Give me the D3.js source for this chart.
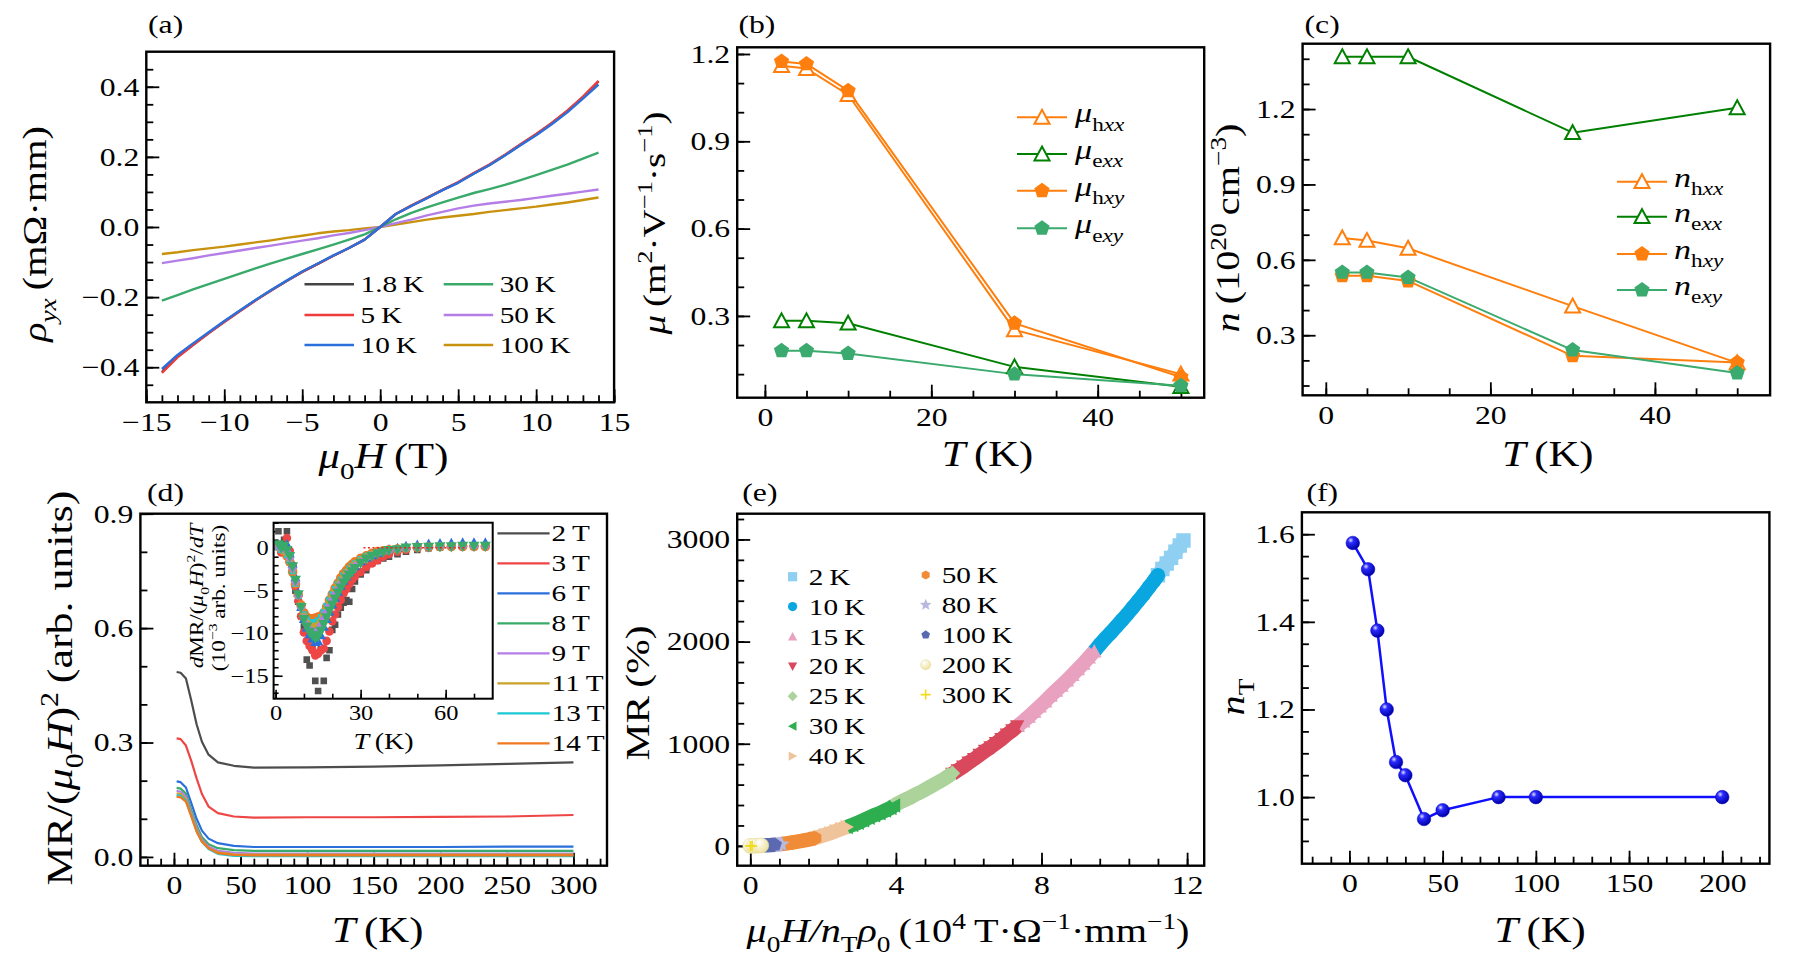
<!DOCTYPE html>
<html><head><meta charset="utf-8">
<script src="https://cdn.jsdelivr.net/npm/d3@7"></script>
<style>body{margin:0;background:#fff;overflow:hidden}</style>
</head><body>
<script>
// ================= DATA =================
// (a) Hall resistivity rho_yx vs field
const aH = [-14,-13,-12,-11,-10,-9,-8,-7,-6,-5,-4,-3,-2,-1,0,1,2,3,4,5,6,7,8,9,10,11,12,13,14];
const a1p8K = [-0.414,-0.370,-0.336,-0.302,-0.270,-0.239,-0.209,-0.181,-0.154,-0.128,-0.105,-0.082,-0.060,-0.036,0,0.037,0.061,0.083,0.106,0.127,0.153,0.177,0.205,0.235,0.264,0.296,0.331,0.370,0.415];
const a5K   = [-0.416,-0.372,-0.337,-0.303,-0.271,-0.240,-0.210,-0.181,-0.154,-0.128,-0.105,-0.082,-0.060,-0.036,0,0.037,0.061,0.083,0.106,0.128,0.154,0.178,0.206,0.236,0.265,0.297,0.332,0.372,0.417];
const a10K  = [-0.405,-0.365,-0.332,-0.300,-0.268,-0.238,-0.208,-0.180,-0.153,-0.127,-0.104,-0.081,-0.060,-0.036,0,0.037,0.060,0.082,0.105,0.126,0.152,0.176,0.204,0.233,0.262,0.293,0.327,0.366,0.406];
const a30K  = [-0.210,-0.194,-0.178,-0.163,-0.148,-0.133,-0.118,-0.104,-0.090,-0.077,-0.064,-0.050,-0.036,-0.021,0,0.022,0.040,0.056,0.070,0.084,0.097,0.108,0.120,0.134,0.148,0.163,0.178,0.195,0.212];
const a50K  = [-0.103,-0.096,-0.089,-0.081,-0.074,-0.067,-0.060,-0.053,-0.046,-0.039,-0.032,-0.024,-0.017,-0.009,0,0.011,0.021,0.033,0.043,0.053,0.061,0.067,0.072,0.077,0.083,0.089,0.095,0.101,0.107];
const a100K = [-0.077,-0.072,-0.066,-0.061,-0.056,-0.050,-0.044,-0.038,-0.031,-0.025,-0.018,-0.013,-0.009,-0.004,0,0.007,0.014,0.021,0.027,0.032,0.037,0.043,0.048,0.053,0.058,0.064,0.070,0.077,0.084];
const aLabels = ["1.8\u2009K","5\u2009K","10\u2009K","30\u2009K","50\u2009K","100\u2009K"];
const aColors = ["#444444","#ee3b3b","#2a6fdb","#3aaa6a","#b57ee6","#c8920e"];

// (b) mobilities
const bT = [2,5,10,30,50];
const muHxx = [1.160,1.150,1.060,0.252,0.100];
const muExx = [0.283,0.283,0.275,0.125,0.057];
const muHxy = [1.174,1.166,1.074,0.275,0.090];
const muExy = [0.180,0.180,0.171,0.100,0.060];

// (c) carrier densities
const cT = [2,5,10,30,50];
const nHxx = [0.687,0.677,0.646,0.416,0.190];
const nExx = [1.408,1.408,1.408,1.106,1.205];
const nHxy = [0.537,0.537,0.516,0.218,0.192];
const nExy = [0.550,0.550,0.530,0.241,0.150];

// (d) MR/(mu0H)^2 vs T
const dT = [2,5,9,13,17,21,26,33,45,60,100,150,200,250,300];
const d2T  = [0.485,0.483,0.468,0.410,0.348,0.302,0.268,0.248,0.239,0.234,0.235,0.237,0.240,0.244,0.248];
const d3T  = [0.311,0.309,0.292,0.252,0.206,0.165,0.132,0.115,0.106,0.103,0.104,0.104,0.105,0.106,0.110];
const d6T  = [0.198,0.196,0.182,0.141,0.100,0.069,0.048,0.036,0.029,0.026,0.026,0.026,0.026,0.027,0.027];
const d8T  = [0.181,0.179,0.166,0.123,0.083,0.052,0.033,0.023,0.018,0.016,0.016,0.016,0.016,0.016,0.016];
const d9T  = [0.173,0.171,0.158,0.116,0.076,0.046,0.027,0.016,0.011,0.009,0.009,0.009,0.009,0.009,0.009];
const d11T = [0.167,0.165,0.152,0.111,0.071,0.042,0.023,0.012,0.007,0.006,0.006,0.006,0.006,0.006,0.006];
const d13T = [0.162,0.160,0.148,0.108,0.068,0.040,0.021,0.008,0.003,0.002,0.002,0.002,0.002,0.002,0.002];
const d14T = [0.158,0.156,0.145,0.106,0.066,0.040,0.023,0.010,0.005,0.004,0.004,0.004,0.004,0.004,0.004];
const dLabels = ["2\u2009T","3\u2009T","6\u2009T","8\u2009T","9\u2009T","11\u2009T","13\u2009T","14\u2009T"];
const dColors = ["#4d4d4d","#ee4545","#2a6fdb","#3aaa6a","#b57ee6","#c9a227","#1cc8d4","#f07820"];

// (d) inset: dMR/(mu0H)^2/dT
const inT = [1,2,3,4,5,6,7,8,9,10,11,12,13,14,15,16,17,18,19,20,21,22,23,24,25,26,27,28,30,32,34,36,38,40,43,46,50,54,58,62,66,70,74];
const in2T  = [2.0,0.5,1.0,2.0,-0.5,-2.5,-5.0,-6.3,-8.0,-9.2,-13.1,-13.8,-11.8,-15.6,-16.8,-11.9,-15.6,-12.9,-12.0,-9.6,-9.0,-7.8,-7.0,-6.4,-6.1,-6.3,-4.8,-3.9,-3.1,-2.6,-1.8,-1.5,-1.2,-1.0,-0.7,-0.4,-0.2,0,0.1,0.2,0.2,0.2,0.2];
const in3T  = [0.3,-0.5,0.2,1.2,-0.3,-2.0,-4.5,-6.2,-8.0,-9.9,-10.9,-11.5,-12.0,-12.6,-12.4,-12.0,-11.8,-10.9,-9.8,-8.6,-7.8,-6.9,-6.1,-5.3,-4.8,-4.2,-3.7,-3.3,-2.8,-2.2,-1.8,-1.4,-1.0,-0.7,-0.4,-0.2,0,0.1,0.2,0.2,0.2,0.2,0.2];
const in6T  = [0.3,0.2,0.0,0.5,-0.6,-1.8,-3.4,-5.2,-6.9,-8.3,-9.3,-10.1,-10.6,-11.0,-10.9,-10.2,-9.2,-8.3,-7.4,-6.6,-5.8,-5.1,-4.4,-3.8,-3.3,-2.8,-2.4,-2.1,-1.5,-1.1,-0.8,-0.5,-0.3,-0.1,0.05,0.3,0.45,0.55,0.6,0.65,0.7,0.7,0.7];
const in8T  = [0.4,0.0,0.2,-0.3,-1.0,-2.2,-3.8,-5.5,-7.0,-8.4,-9.3,-9.9,-10.3,-10.6,-10.4,-9.8,-9.0,-8.2,-7.4,-6.7,-6.0,-5.3,-4.7,-4.1,-3.6,-3.2,-2.8,-2.4,-1.8,-1.3,-1.0,-0.7,-0.5,-0.3,-0.2,0.0,0.05,0.1,0.15,0.15,0.2,0.2,0.2];
const in9T  = [0.2,0,0,-0.4,-1.2,-2.4,-4.0,-5.6,-7.0,-8.2,-9.0,-9.5,-9.8,-9.9,-9.6,-9.0,-8.3,-7.5,-6.8,-6.1,-5.4,-4.8,-4.2,-3.7,-3.2,-2.8,-2.4,-2.1,-1.6,-1.2,-0.9,-0.6,-0.4,-0.3,-0.15,0,0.1,0.1,0.15,0.2,0.2,0.2,0.2];
const in11T = [0.2,-0.1,-0.2,-0.6,-1.3,-2.5,-4.1,-5.6,-6.9,-8.0,-8.7,-9.1,-9.2,-9.2,-9.0,-8.5,-7.9,-7.1,-6.4,-5.7,-5.0,-4.4,-3.9,-3.4,-2.9,-2.5,-2.2,-1.9,-1.4,-1.0,-0.7,-0.5,-0.3,-0.2,-0.1,0,0.1,0.15,0.2,0.2,0.25,0.25,0.25];
const in13T = [0.1,-0.2,-0.3,-0.8,-1.5,-2.7,-4.2,-5.6,-6.8,-7.8,-8.4,-8.7,-8.8,-8.7,-8.5,-8.1,-7.5,-6.8,-6.1,-5.4,-4.8,-4.2,-3.7,-3.2,-2.8,-2.4,-2.1,-1.8,-1.3,-0.9,-0.7,-0.5,-0.3,-0.2,-0.1,0,0.1,0.2,0.3,0.3,0.35,0.35,0.35];
const in14T = [0.2,-0.1,-0.4,-0.9,-1.6,-2.8,-4.2,-5.5,-6.7,-7.6,-8.1,-8.3,-8.3,-8.2,-8.1,-8.0,-7.6,-6.9,-6.1,-5.4,-4.7,-4.1,-3.5,-3.0,-2.6,-2.2,-1.9,-1.6,-1.2,-0.9,-0.6,-0.4,-0.3,-0.2,-0.1,0,0.1,0.15,0.2,0.2,0.2,0.2,0.2];
const inFitT = [31,67];
const inFitV = [0.05,0.05];

// (e) MR vs mu0H/(nT rho0), visible segment of each temperature
const e2K   = [[11.2,2650],[11.32,2710],[11.44,2765],[11.56,2820],[11.68,2880],[11.8,2940],[11.9,2990]];
const e10K  = [[9.45,1905],[9.6,1970],[9.75,2030],[9.9,2085],[10.05,2145],[10.2,2205],[10.35,2265],[10.5,2330],[10.65,2395],[10.8,2460],[10.95,2530],[11.1,2600],[11.2,2650]];
const e15K  = [[7.35,1175],[7.5,1220],[7.65,1265],[7.8,1315],[7.95,1365],[8.1,1415],[8.25,1470],[8.4,1520],[8.55,1570],[8.7,1620],[8.85,1675],[9.0,1730],[9.15,1785],[9.3,1845],[9.45,1905]];
const e20K  = [[5.55,705],[5.7,740],[5.85,775],[6.0,815],[6.15,850],[6.3,890],[6.45,930],[6.6,965],[6.75,1005],[6.9,1045],[7.05,1090],[7.2,1130],[7.33,1170]];
const e25K  = [[3.95,395],[4.1,425],[4.25,450],[4.4,475],[4.55,505],[4.7,530],[4.85,560],[5.0,590],[5.15,620],[5.3,650],[5.45,685],[5.55,710]];
const e30K  = [[2.65,185],[2.8,205],[2.95,225],[3.1,250],[3.25,275],[3.4,300],[3.55,320],[3.7,345],[3.85,370],[3.95,395]];
const e40K  = [[1.78,75],[1.9,90],[2.05,108],[2.2,125],[2.35,145],[2.5,165],[2.65,185]];
const e50K  = [[0.86,18],[1.0,25],[1.15,33],[1.3,42],[1.45,52],[1.6,62],[1.78,75]];
const e80K  = [[0.68,12],[0.77,14],[0.86,16]];
const e100K = [[0.36,5],[0.46,7],[0.57,9],[0.68,12]];
const e200K = [[0.0,0],[0.1,1],[0.2,2],[0.3,4]];
const e300K = [[0.0,0],[0.05,0]];
const eLabels = ["2\u2009K","10\u2009K","15\u2009K","20\u2009K","25\u2009K","30\u2009K","40\u2009K","50\u2009K","80\u2009K","100\u2009K","200\u2009K","300\u2009K"];
const eColors = ["#8fd0f2","#0aa6e0","#e9a1c0","#d9485c","#acd39a","#2fae50","#f0c49a","#f08c38","#b9b9dd","#5a69b0","#f3edb0","#f2dc1a"];
const eShapes = ["sq","ci","tu","td","di","tl","tr","hx","st","pe","ball","pl"];

// (f) nT vs T
const fT  = [1.8,10,15,20,25,30,40,50,80,100,200];
const fNT = [1.58,1.52,1.38,1.20,1.08,1.05,0.95,0.97,1.00,1.00,1.00];

// ================= DRAWING =================
const FONT = '"Liberation Serif","Times New Roman",serif';
const S = 1.22; // horizontal glyph widening (Computer-Modern look)
const svg = d3.select("body").append("svg").attr("width",1796).attr("height",965)
  .attr("font-family",FONT).style("background","#fff");
const defs = svg.append("defs");
const gb = defs.append("radialGradient").attr("id","ballB").attr("cx","35%").attr("cy","30%").attr("r","70%");
gb.append("stop").attr("offset","0%").attr("stop-color","#e0e0ff");
gb.append("stop").attr("offset","30%").attr("stop-color","#2a2aff");
gb.append("stop").attr("offset","100%").attr("stop-color","#0000a8");
const gy = defs.append("radialGradient").attr("id","ballY").attr("cx","35%").attr("cy","30%").attr("r","70%");
gy.append("stop").attr("offset","0%").attr("stop-color","#ffffff");
gy.append("stop").attr("offset","100%").attr("stop-color","#eee3a0");

function poly(n, r, rot, inner){
  const m = inner ? 2*n : n, pts=[];
  for(let i=0;i<m;i++){const a=rot+i*2*Math.PI/m;const rr=(inner&&i%2)?r*inner:r;pts.push([rr*Math.sin(a),-rr*Math.cos(a)]);}
  return "M"+pts.map(p=>p[0].toFixed(2)+","+p[1].toFixed(2)).join("L")+"Z";
}
function sym(t, r){
  switch(t){
    case "sq": return `M${-r},${-r}H${r}V${r}H${-r}Z`;
    case "ci": case "ball": return `M${r},0A${r},${r} 0 1,1 ${-r},0A${r},${r} 0 1,1 ${r},0Z`;
    case "tu": return `M0,${-r}L${r},${r*0.85}L${-r},${r*0.85}Z`;
    case "td": return `M0,${r}L${r},${-r*0.85}L${-r},${-r*0.85}Z`;
    case "tl": return `M${-r},0L${r*0.85},${-r}L${r*0.85},${r}Z`;
    case "tr": return `M${r},0L${-r*0.85},${-r}L${-r*0.85},${r}Z`;
    case "di": return `M0,${-r*1.1}L${r*1.1},0L0,${r*1.1}L${-r*1.1},0Z`;
    case "hx": return poly(6,r,0);
    case "st": return poly(5,r*1.1,0,0.45);
    case "pe": return poly(5,r,0);
    case "pl": return `M${-r},0H${r}M0,${-r}V${r}`;
  }
}

function stretchText(sel){
  sel.each(function(){const t=d3.select(this);const x=+t.attr("x")||0,y=+t.attr("y")||0;
    t.attr("x",0).attr("y",0).attr("transform",`translate(${x},${y}) scale(${S},1)`);});
}
function fixAxis(sel, fs, tw){
  sel.attr("font-family",null).attr("font-size",null);
  sel.select(".domain").remove();
  sel.selectAll(".tick line").attr("stroke","#000").attr("stroke-width",tw);
  sel.selectAll(".tick text").attr("font-size",fs).attr("fill","#000").attr("font-family",FONT).call(stretchText);
}
let clipN=0;
function panel(o){
  const x=d3.scaleLinear().domain(o.xd).range([o.l,o.r]);
  const y=d3.scaleLinear().domain(o.yd).range([o.b,o.t]);
  const g=svg.append("g");
  const fs=o.fs||26, tl=o.tl||13, tm=o.tm||7, tw=o.tw||1.8;
  if(o.bg) g.append("rect").attr("x",o.l).attr("y",o.t).attr("width",o.r-o.l).attr("height",o.b-o.t).attr("fill","#fff");
  const a1=g.append("g").attr("transform",`translate(0,${o.b})`).call(d3.axisBottom(x).tickValues(o.xMin).tickSizeInner(-tm).tickSizeOuter(0).tickFormat(()=>""));
  const a2=g.append("g").attr("transform",`translate(0,${o.b})`).call(d3.axisBottom(x).tickValues(o.xMaj).tickSizeInner(-tl).tickSizeOuter(0).tickPadding(o.xpad??10).tickFormat(o.xf));
  const a3=g.append("g").attr("transform",`translate(${o.l},0)`).call(d3.axisLeft(y).tickValues(o.yMin).tickSizeInner(-tm).tickSizeOuter(0).tickFormat(()=>""));
  const a4=g.append("g").attr("transform",`translate(${o.l},0)`).call(d3.axisLeft(y).tickValues(o.yMaj).tickSizeInner(-tl).tickSizeOuter(0).tickPadding(o.ypad??7).tickFormat(o.yf));
  [a1,a2,a3,a4].forEach(a=>fixAxis(a,fs,tw));
  const id="clip"+(clipN++);
  defs.append("clipPath").attr("id",id).append("rect").attr("x",o.l).attr("y",o.t).attr("width",o.r-o.l).attr("height",o.b-o.t);
  const data=g.append("g").attr("clip-path",`url(#${id})`);
  return {x,y,g,data,finish(){g.append("rect").attr("x",o.l).attr("y",o.t).attr("width",o.r-o.l).attr("height",o.b-o.t)
    .attr("fill","none").attr("stroke","#000").attr("stroke-width",o.sw||2.4);}};
}
function line(P, xs, ys, color, w){
  P.data.append("path").datum(xs.map((v,i)=>[v,ys[i]]))
    .attr("d",d3.line().x(d=>P.x(d[0])).y(d=>P.y(d[1])))
    .attr("fill","none").attr("stroke",color).attr("stroke-width",w).attr("stroke-linejoin","round");
}
function band(P, pts, color, w){
  P.data.append("path").datum(pts)
    .attr("d",d3.line().x(d=>P.x(d[0])).y(d=>P.y(d[1])))
    .attr("fill","none").attr("stroke",color).attr("stroke-width",w).attr("stroke-linejoin","round").attr("stroke-linecap","butt");
}
function marks(P, pts, type, r, fill, stroke, sw){
  P.data.append("g").selectAll("path").data(pts).join("path")
    .attr("transform",d=>`translate(${P.x(d[0])},${P.y(d[1])})`)
    .attr("d",sym(type,r)).attr("fill",fill).attr("stroke",stroke||"none").attr("stroke-width",sw||0);
}
const zip=(a,b)=>a.map((v,i)=>[v,b[i]]);

// rich text: parts [[str, style]] style: i=italic, b=subscript, p=superscript
function rich(t, parts, fs){
  let shift=0;
  parts.forEach(([s,st=""])=>{
    const ts=t.append("tspan").text(s);
    let target=0,size=fs;
    if(st.includes("b")){target=0.3*fs;size=0.68*fs;}
    if(st.includes("p")){target=-0.4*fs;size=0.68*fs;}
    if(st.includes("i")) ts.attr("font-style","italic");
    ts.attr("font-size",size);
    if(target!==shift){ts.attr("dy",target-shift);shift=target;}
  });
  return t;
}
function htext(parts, x, y, fs, anchor){
  const t=svg.append("text").attr("transform",`translate(${x},${y}) scale(${S},1)`)
    .attr("text-anchor",anchor||"middle").attr("font-size",fs).attr("fill","#000");
  return rich(t, parts, fs);
}
function vtext(parts, x, y, fs){
  const t=svg.append("text").attr("transform",`translate(${x},${y}) rotate(-90) scale(${S},1)`)
    .attr("text-anchor","middle").attr("font-size",fs).attr("fill","#000");
  return rich(t, parts, fs);
}
const f1=d3.format(".1f"), fd=d3.format("d");

// ---------- (a) ----------
{
  const P=panel({l:146.3,r:614.1,t:51.7,b:402.3,xd:[-15,15],yd:[-0.5,0.5],
    xMaj:[-15,-10,-5,0,5,10,15],xMin:d3.range(-15,16,1),yMaj:[-0.4,-0.2,0,0.2,0.4],yMin:d3.range(-9,10).map(i=>i*0.05),xf:fd,yf:f1});
  const ser=[a1p8K,a5K,a10K,a30K,a50K,a100K];
  [5,4,3,0,1,2].forEach(i=>line(P,aH,ser[i],aColors[i],2.4));
  P.finish();
  const lx=[304.5,443.7], ly=[284.3,315,345];
  aLabels.forEach((lab,i)=>{
    const c=Math.floor(i/3), r=i%3;
    svg.append("line").attr("x1",lx[c]).attr("x2",lx[c]+49.5).attr("y1",ly[r]).attr("y2",ly[r]).attr("stroke",aColors[i]).attr("stroke-width",2.4);
    htext([[lab]],lx[c]+56,ly[r]+8,24,"start");
  });
  htext([["(a)"]],148,33,26,"start");
  htext([["\u03bc","i"],["0","b"],["H","i"],["\u2009(T)"]],383.5,468,35);
  vtext([["\u03c1","i"],["yx","bi"],["\u2009(m\u03a9\u00b7mm)"]],46,234,33);
}

// ---------- (b) ----------
{
  const P=panel({l:737.2,r:1204.2,t:47.3,b:397.7,xd:[-3.33,52.8],yd:[0.019,1.223],
    xMaj:[0,20,40],xMin:d3.range(0,51,5),yMaj:[0.3,0.6,0.9,1.2],yMin:d3.range(1,13).map(i=>i*0.1),xf:fd,yf:f1});
  const OR="#ff7f0e", DG="#008000", MG="#3aaa6e";
  line(P,bT,muHxx,OR,2); line(P,bT,muHxy,OR,2); line(P,bT,muExx,DG,2); line(P,bT,muExy,MG,2);
  marks(P,zip(bT,muHxx),"tu",7.5,"#fff",OR,2);
  marks(P,zip(bT,muExx),"tu",7.5,"#fff",DG,2);
  marks(P,zip(bT,muHxy),"pe",8,OR);
  marks(P,zip(bT,muExy),"pe",8,MG);
  P.finish();
  const leg=[[OR,"tu","h","xx"],[DG,"tu","e","xx"],[OR,"pe","h","xy"],[MG,"pe","e","xy"]];
  const ly=[117.3,154,190.7,228.3];
  leg.forEach(([c,s,a,b],i)=>{
    svg.append("line").attr("x1",1017).attr("x2",1067).attr("y1",ly[i]).attr("y2",ly[i]).attr("stroke",c).attr("stroke-width",2);
    svg.append("path").attr("transform",`translate(1042,${ly[i]})`).attr("d",sym(s,s==="tu"?7.5:8))
      .attr("fill",s==="tu"?"#fff":c).attr("stroke",s==="tu"?c:"none").attr("stroke-width",2);
    htext([["\u03bc","i"],[a,"b"],[b,"bi"]],1075,ly[i]+5,28,"start");
  });
  htext([["(b)"]],738.4,33,26,"start");
  htext([["T","i"],["\u2009(K)"]],987.5,466,35);
  vtext([["\u03bc","i"],["\u2009(m"],["2","p"],["\u00b7V"],["\u22121","p"],["\u00b7s"],["\u22121","p"],[")"]],665,223,32);
}

// ---------- (c) ----------
{
  const P=panel({l:1302.6,r:1770.1,t:43.7,b:395.3,xd:[-2.82,54.0],yd:[0.061,1.46],
    xMaj:[0,20,40],xMin:d3.range(0,51,5),yMaj:[0.3,0.6,0.9,1.2],yMin:d3.range(1,15).map(i=>i*0.1),xf:fd,yf:f1});
  const OR="#ff7f0e", DG="#008000", MG="#3aaa6e";
  line(P,cT,nHxx,OR,2); line(P,cT,nExx,DG,2); line(P,cT,nHxy,OR,2); line(P,cT,nExy,MG,2);
  marks(P,zip(cT,nHxx),"tu",7.5,"#fff",OR,2);
  marks(P,zip(cT,nExx),"tu",7.5,"#fff",DG,2);
  marks(P,zip(cT,nHxy),"pe",8,OR);
  marks(P,zip(cT,nExy),"pe",8,MG);
  P.finish();
  const leg=[[OR,"tu","h","xx"],[DG,"tu","e","xx"],[OR,"pe","h","xy"],[MG,"pe","e","xy"]];
  const ly=[181.7,216.7,254,290];
  leg.forEach(([c,s,a,b],i)=>{
    svg.append("line").attr("x1",1617).attr("x2",1667).attr("y1",ly[i]).attr("y2",ly[i]).attr("stroke",c).attr("stroke-width",2);
    svg.append("path").attr("transform",`translate(1642,${ly[i]})`).attr("d",sym(s,s==="tu"?7.5:8))
      .attr("fill",s==="tu"?"#fff":c).attr("stroke",s==="tu"?c:"none").attr("stroke-width",2);
    htext([["n","i"],[a,"b"],[b,"bi"]],1674,ly[i]+5,28,"start");
  });
  htext([["(c)"]],1304.5,33,26,"start");
  htext([["T","i"],["\u2009(K)"]],1547.8,466,35);
  vtext([["n","i"],["\u2009(10"],["20","p"],["\u2009cm"],["\u22123","p"],[")"]],1239,228,33);
}

// ---------- (d) ----------
{
  const P=panel({l:140.4,r:607,t:513.7,b:865.7,xd:[-25.2,325.2],yd:[-0.023,0.9],
    xMaj:[0,50,100,150,200,250,300],xMin:d3.range(-20,321,10),yMaj:[0,0.3,0.6,0.9],yMin:d3.range(0,10).map(i=>i*0.1),xf:fd,yf:f1});
  const ser=[d2T,d3T,d6T,d8T,d9T,d11T,d13T,d14T];
  ser.forEach((s,i)=>line(P,dT,s,dColors[i],2.2));
  P.finish();
  dLabels.forEach((lab,i)=>{
    const yy=533.3+30*i;
    svg.append("line").attr("x1",497.4).attr("x2",549.6).attr("y1",yy).attr("y2",yy).attr("stroke",dColors[i]).attr("stroke-width",2.2);
    htext([[lab]],551.6,yy+8,24,"start");
  });
  // inset
  const I=panel({l:273.6,r:492.7,t:522.7,b:698.7,xd:[-0.7,76.6],yd:[-17.7,3.0],bg:true,
    xMaj:[0,30,60],xMin:d3.range(0,80,10),yMaj:[0,-5,-10,-15],yMin:d3.range(-17,4,1),xf:fd,yf:fd,
    fs:20,tl:9,tm:5,tw:1.6,sw:2,xpad:7,ypad:5});
  marks(I,zip(inT,in2T),"sq",3.3,"#505050");
  marks(I,zip(inT,in3T),"ci",4.3,"#ee4545");
  marks(I,zip(inT,in6T),"tu",5,"#2a6fdb");
  marks(I,zip(inT,in14T),"ci",4.8,"#f07820");
  marks(I,zip(inT,in13T),"sq",3.2,"#1cc8d4");
  marks(I,zip(inT,in11T),"di",4,"#c9a227");
  marks(I,zip(inT,in9T),"di",4.2,"#b57ee6");
  marks(I,zip(inT,in8T),"td",5.5,"#3aaa6a");
  I.data.append("path").datum(zip(inFitT,inFitV)).attr("d",d3.line().x(d=>I.x(d[0])).y(d=>I.y(d[1])))
    .attr("stroke","#ee2222").attr("stroke-width",1.6).attr("stroke-dasharray","2,2.5").attr("fill","none");
  I.finish();
  htext([["T","i"],["\u2009(K)"]],383.5,749,23);
  vtext([["d","i"],["MR/("],["\u03bc","i"],["0","b"],["H","i"],[")"],["2","p"],["/"],["dT","i"]],203,596,19);
  vtext([["(10"],["\u22123","p"],["\u2009arb. units)"]],225,598,19);
  htext([["(d)"]],147,501,26,"start");
  htext([["T","i"],["\u2009(K)"]],377.6,942,35);
  vtext([["MR/("],["\u03bc","i"],["0","b"],["H","i"],[")"],["2","p"],["\u2009(arb. units)"]],72,688,36);
}

// ---------- (e) ----------
{
  const P=panel({l:737.2,r:1204.2,t:513.7,b:865.7,xd:[-0.36,12.47],yd:[-194,3252],
    xMaj:[0,4,8,12],xMin:d3.range(0,16).map(i=>i*0.8),yMaj:[0,1000,2000,3000],yMin:d3.range(0,17).map(i=>i*200),xf:fd,yf:fd});
  const ser=[e2K,e10K,e15K,e20K,e25K,e30K,e40K,e50K,e80K,e100K,e200K,e300K];
  ser.forEach((s,i)=>{
    const sh=eShapes[i], c=eColors[i];
    if(sh==="pl") marks(P,s,"pl",5,"none",c,1.6);
    else if(sh==="ball") marks(P,s,"ci",7.5,"url(#ballY)","#e6dc9a",0.6);
    else { band(P,s,c,14.5); marks(P,s,sh,sh==="st"?7.5:7.2,c); }
  });
  P.finish();
  eLabels.forEach((lab,i)=>{
    const c=i<7?0:1, r=i<7?i:i-7;
    const mx=c?925.7:792.6, tx=c?941.7:808.8, yy=(c?575:576.7)+29.9*r;
    const sh=eShapes[i], col=eColors[i];
    const p=svg.append("path").attr("transform",`translate(${mx},${yy})`);
    if(sh==="pl") p.attr("d",sym("pl",5)).attr("stroke",col).attr("stroke-width",1.6).attr("fill","none");
    else if(sh==="ball") p.attr("d",sym("ci",5)).attr("fill","url(#ballY)").attr("stroke","#e6dc9a").attr("stroke-width",0.6);
    else p.attr("d",sym(sh,sh==="st"?5.5:4.6)).attr("fill",col);
    htext([[lab]],tx,yy+8,24,"start");
  });
  htext([["(e)"]],742.3,501,26,"start");
  htext([["\u03bc","i"],["0","b"],["H/n","i"],["T","b"],["\u03c1","i"],["0","b"],["\u2009(10"],["4","p"],["\u2009T\u00b7\u03a9"],["\u22121","p"],["\u00b7mm"],["\u22121","p"],[")"]],968,942,33);
  vtext([["MR\u2009(%)"]],649,693,34);
}

// ---------- (f) ----------
{
  const P=panel({l:1301.9,r:1769.4,t:512.3,b:863.7,xd:[-25.5,225.3],yd:[0.848,1.650],
    xMaj:[0,50,100,150,200],xMin:d3.range(-20,221,10),yMaj:[1.0,1.2,1.4,1.6],yMin:d3.range(18,33).map(i=>i*0.05),xf:fd,yf:f1});
  line(P,fT,fNT,"#1010ff",2.5);
  marks(P,zip(fT,fNT),"ci",6.8,"url(#ballB)","#0000c0",0.5);
  P.finish();
  htext([["(f)"]],1306.4,501,26,"start");
  htext([["T","i"],["\u2009(K)"]],1540,942,35);
  vtext([["n","i"],["T","b"]],1244,697,33);
}
</script>
</body></html>
